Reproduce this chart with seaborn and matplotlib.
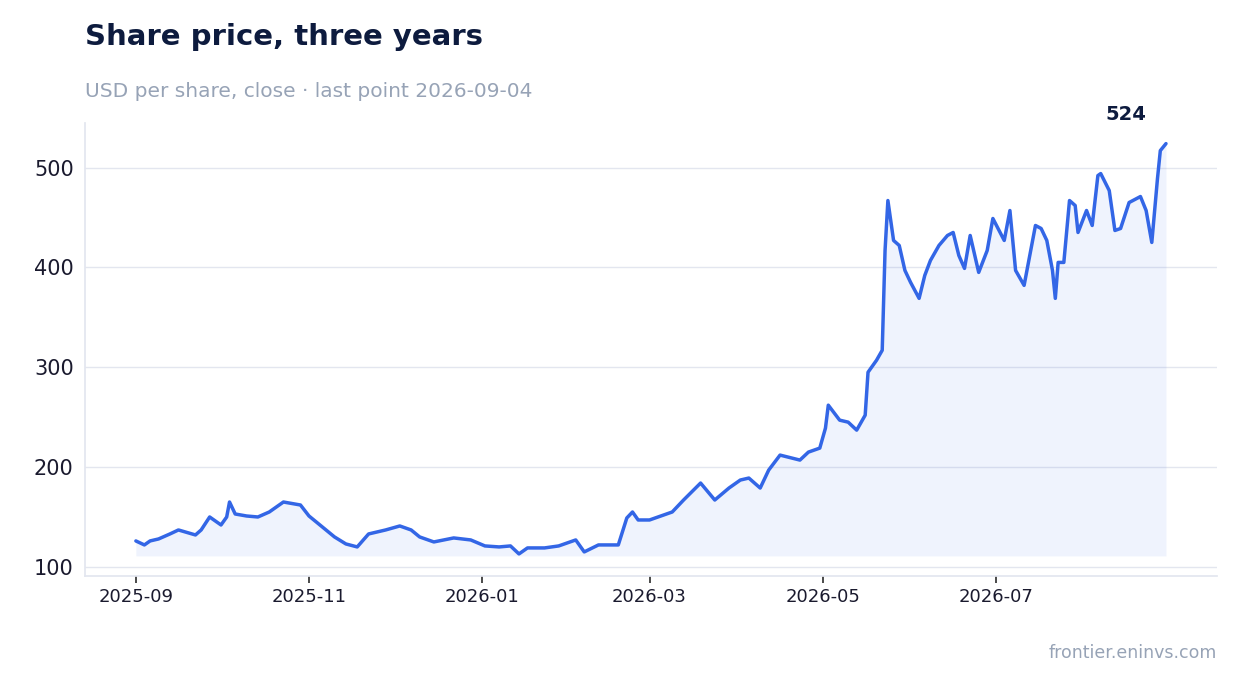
import pandas as pd
import matplotlib.pyplot as plt
import matplotlib.dates as mdates
import seaborn as sns

# days since 2025-09-01
day_offsets = [0, 3, 5, 8, 12, 15, 21, 23, 26, 30, 32, 33, 35, 39, 43, 47, 52, 58, 61, 67,
               70, 74, 78, 82, 88, 93, 97, 100, 105, 112, 118, 123, 128, 132, 135, 138, 144,
               149, 155, 158, 163, 170, 173, 175, 177, 181, 185, 189, 193, 199, 204, 209,
               213, 216, 220, 223, 227, 234, 237, 241, 243, 244, 248, 251, 254, 257, 258,
               261, 263, 264, 265, 267, 269, 271, 273, 276, 278, 280, 283, 286, 288, 290,
               292, 294, 297, 300, 302, 306, 308, 310, 311, 313, 317, 319, 321, 323, 324,
               325, 327, 329, 331, 332, 335, 337, 339, 340, 343, 345, 347, 350, 354, 356,
               358, 360, 361, 363]
close = [126, 122, 126, 128, 133, 137, 132, 137, 150, 142, 150, 165, 153, 151, 150, 155,
         165, 162, 151, 137, 130, 123, 120, 133, 137, 141, 137, 130, 125, 129, 127, 121,
         120, 121, 113, 119, 119, 121, 127, 115, 122, 122, 149, 155, 147, 147, 151, 155,
         167, 184, 167, 179, 187, 189, 179, 197, 212, 207, 215, 219, 239, 262, 247, 245,
         237, 252, 295, 307, 317, 417, 467, 427, 422, 397, 385, 369, 392, 407, 422, 432,
         435, 412, 399, 432, 395, 417, 449, 427, 457, 397, 392, 382, 442, 439, 427, 397,
         369, 405, 405, 467, 462, 435, 457, 442, 492, 494, 477, 437, 439, 465, 471, 457,
         425, 489, 517, 524]

df = pd.DataFrame({"date": pd.Timestamp("2025-09-01") + pd.to_timedelta(day_offsets, unit="D"),
                   "close": close})

sns.set_theme(style="white")
plt.rcParams['font.family'] = ['DejaVu Sans']

fig = plt.figure(figsize=(12.47, 6.93), dpi=100)
ax = fig.add_axes([0.068, 0.169, 0.908, 0.654])

line_color = "#3366e6"
ax.fill_between(df["date"], df["close"], df["close"].min() - 2, color=line_color, alpha=0.08, lw=0)
sns.lineplot(data=df, x="date", y="close", ax=ax, color=line_color, linewidth=2.5)

ax.set_ylim(91, 545)
ax.set_xlim(pd.Timestamp("2025-08-14"), pd.Timestamp("2026-09-17"))
ax.set_yticks([100, 200, 300, 400, 500])
ax.xaxis.set_major_locator(mdates.MonthLocator(bymonth=[1, 3, 5, 7, 9, 11]))
ax.xaxis.set_major_formatter(mdates.DateFormatter("%Y-%m"))
ax.set_xticks([pd.Timestamp(d) for d in ["2025-09-01", "2025-11-01", "2026-01-01",
                                          "2026-03-01", "2026-05-01", "2026-07-01"]])
ax.set_xlabel("")
ax.set_ylabel("")
ax.grid(axis="y", color="#e3e6ef", linewidth=1)
ax.tick_params(axis="y", labelsize=15, colors="#1a1a2e", length=0, pad=8)
ax.tick_params(axis="x", labelsize=13, colors="#1a1a2e", length=5, color="#333333", bottom=True)
for s in ["top", "right"]:
    ax.spines[s].set_visible(False)
for s in ["left", "bottom"]:
    ax.spines[s].set_color("#e3e6ef")

last = df.iloc[-1]
ax.annotate(f"{last['close']:.0f}", (last["date"], last["close"]), xytext=(-14, 14),
            textcoords="offset points", ha="right", va="bottom", fontsize=14,
            fontweight="bold", color="#0d1b3e")

fig.text(0.068, 0.935, "Share price, three years", fontsize=21, fontweight="bold", color="#0d1b3e")
fig.text(0.068, 0.86, "USD per share, close · last point 2026-09-04", fontsize=14.5, color="#97a3b6")
fig.text(0.976, 0.05, "frontier.eninvs.com", fontsize=12.5, color="#97a3b6", ha="right")

fig.savefig("out.png", dpi=100)
